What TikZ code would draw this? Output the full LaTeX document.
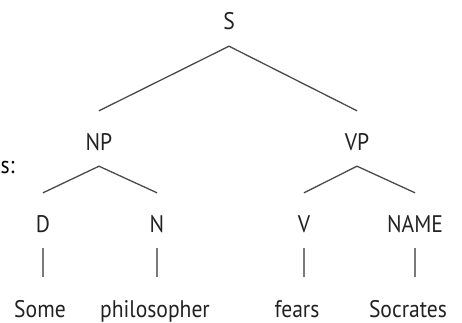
\documentclass[tikz,border=0pt]{standalone}
\usepackage{fontspec}
\setmainfont{PT Sans}[FakeStretch=0.9]
\usepackage{tikz}
\usetikzlibrary{calc}
\definecolor{edgeGray}{HTML}{4A4A4A}
\definecolor{stemGray}{HTML}{7A7A7A}
\definecolor{labelInk}{HTML}{222222}

\begin{document}
\begin{tikzpicture}[x=1pt,y=-1pt,font=\fontsize{24}{28}\selectfont,
  cat/.style={anchor=base,inner sep=0pt,text=labelInk,text height=39pt,text depth=16pt},
  word/.style={anchor=base,inner sep=0pt,text=labelInk,text height=40pt,text depth=0pt},
  branch/.style={draw=edgeGray,line width=1.3pt},
  stem/.style={draw=stemGray,line width=1.3pt}]
  \useasboundingbox (0,0) rectangle (462,323);
  % categories
  \node[cat] (s) at (229,30) {S};
  \node[cat] (np) at (99,150) {NP};
  \node[cat] (vp) at (357,150) {VP};
  \node[cat] (d) at (43,232) {D};
  \node[cat] (n) at (157,232) {N};
  \node[cat] (v) at (304,232) {V};
  \node[cat] (name) at (415,232) {NAME};
  % words
  \node[word] (some) at (40,317) {Some};
  \node[word] (philosopher) at (155,317) {philosopher};
  \node[word] (fears) at (297,317) {fears};
  \node[word] (socrates) at (408,317) {Socrates};
  \node[anchor=base west,inner sep=0pt,text=black] (cut) at (0.5,173) {s:};
  % branches
  \draw[branch] (np.north) -- (s.south) -- (vp.north);
  \draw[branch] (d.north) -- (np.south) -- (n.north);
  \draw[branch] (v.north) -- (vp.south) -- (name.north);
  \foreach \c/\w in {d/some,n/philosopher,v/fears,name/socrates}
    \draw[stem] (\c.south) -- (\c.south |- \w.north);
\end{tikzpicture}
\end{document}
